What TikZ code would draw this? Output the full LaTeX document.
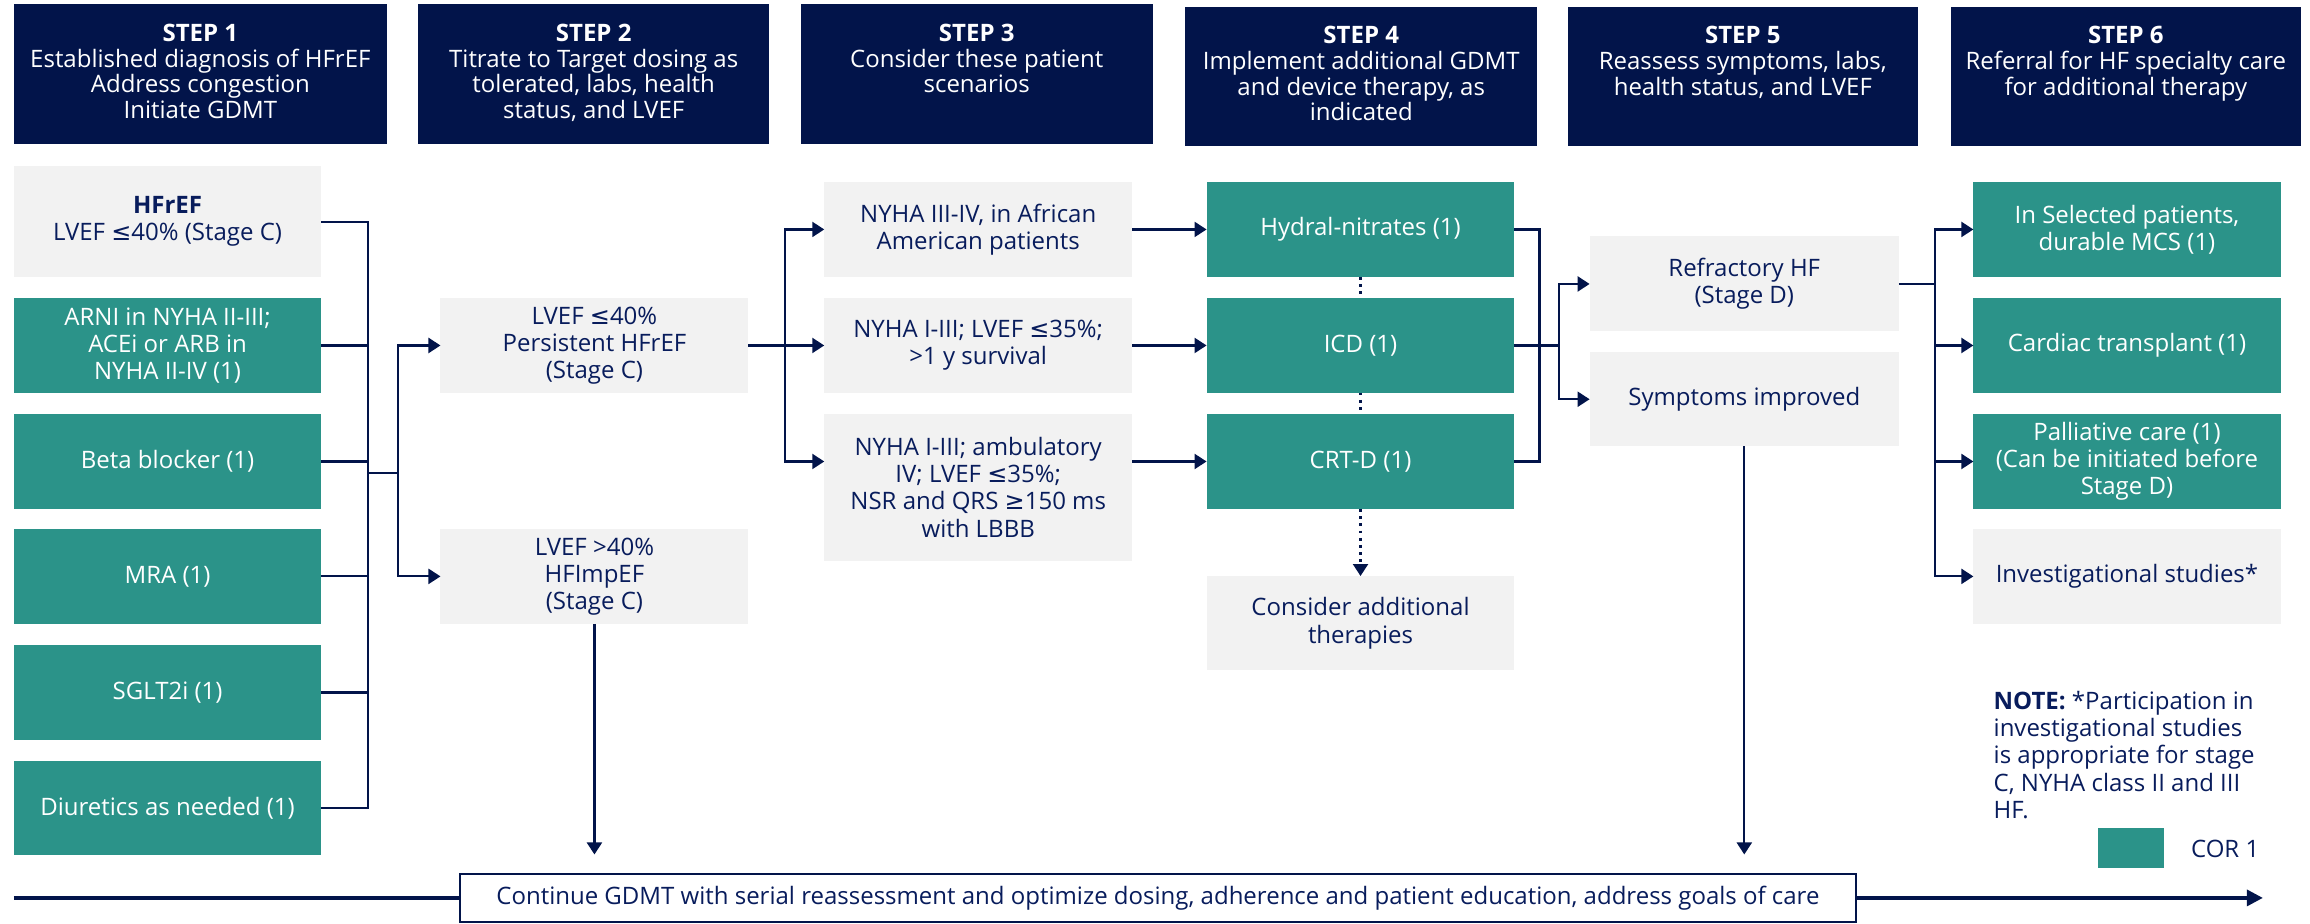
\documentclass[tikz,border=0pt]{standalone}
\usepackage{fontspec}
\setmainfont{Open Sans}
\newfontfamily\symf{DejaVu Sans}
\newcommand\myle{{\symf ≤}}
\newcommand\myge{{\symf ≥}}
\usetikzlibrary{arrows.meta}
\definecolor{navy}{RGB}{2,20,74}
\definecolor{cteal}{RGB}{43,147,137}
\definecolor{cgray}{RGB}{242,242,242}
\definecolor{ctext}{RGB}{8,28,92}
\newcommand\bx[7]{\node[#2, minimum width={(#5-#3)*0.7366pt}, minimum height={(#6-#4)*0.7366pt}] (#1) at ({(#3+#5)/2},{(#4+#6)/2}) {#7};}
\tikzset{
  base/.style={rectangle, inner sep=2pt, outer sep=0pt, align=center, font=\fontsize{12}{13.6}\selectfont},
  tealbox/.style={base, fill=cteal, text=white},
  graybox/.style={base, fill=cgray, text=ctext},
  headbox/.style={rectangle, fill=navy, outer sep=0pt, inner sep=0pt},
  headtext/.style={align=center, text=white, inner sep=0pt, anchor=north, font=\fontsize{12}{12.9}\selectfont},
  contbox/.style={base, draw=navy, line width=1pt, fill=white, text=ctext},
  conn/.style={draw=navy, line width=1.1pt},
  tip/.style={-{Triangle[length=6pt,width=7.5pt]}},
  arr/.style={conn, tip},
  dotconn/.style={draw=navy, line width=1.1pt, dash pattern=on 1.4pt off 2.2pt},
}
\begin{document}
\begin{tikzpicture}[x=0.7366pt, y=-0.7366pt]
\useasboundingbox (0,0) rectangle (1568,627);
% headers
\bx{h1}{headbox}{9.5}{3}{263}{97.5}{}
\bx{h2}{headbox}{284}{3}{522}{97.5}{}
\bx{h3}{headbox}{544}{3}{782.5}{97.5}{}
\bx{h4}{headbox}{804.5}{4.5}{1043}{99}{}
\bx{h5}{headbox}{1064}{4.5}{1302}{99}{}
\bx{h6}{headbox}{1324}{4.5}{1562}{99}{}
\node[headtext] (h1t) at (136,16) {\textbf{STEP 1}\\Established diagnosis of HFrEF\\Address congestion\\Initiate GDMT};
\node[headtext] (h2t) at (403,16) {\textbf{STEP 2}\\Titrate to Target dosing as\\tolerated, labs, health\\status, and LVEF};
\node[headtext] (h3t) at (663,16) {\textbf{STEP 3}\\Consider these patient\\scenarios};
\node[headtext] (h4t) at (924,17.5) {\textbf{STEP 4}\\Implement additional GDMT\\and device therapy, as\\indicated};
\node[headtext] (h5t) at (1183,17.5) {\textbf{STEP 5}\\Reassess symptoms, labs,\\health status, and LVEF};
\node[headtext] (h6t) at (1443,17.5) {\textbf{STEP 6}\\Referral for HF specialty care\\for additional therapy};
% column 1
\bx{c1}{graybox}{9.5}{113}{218}{188}{\textbf{HFrEF}\\LVEF \myle40\% (Stage C)}
\bx{c2}{tealbox}{9.5}{202.5}{218}{266.5}{ARNI in NYHA II-III;\\ACEi or ARB in\\NYHA II-IV (1)}
\bx{c3}{tealbox}{9.5}{281}{218}{345.5}{Beta blocker (1)}
\bx{c4}{tealbox}{9.5}{359}{218}{423.5}{MRA (1)}
\bx{c5}{tealbox}{9.5}{438}{218}{502}{SGLT2i (1)}
\bx{c6}{tealbox}{9.5}{516.5}{218}{580.5}{Diuretics as needed (1)}
% column 2
\bx{s2a}{graybox}{299}{202.5}{508}{266.5}{LVEF \myle40\%\\Persistent HFrEF\\(Stage C)}
\bx{s2b}{graybox}{299}{359}{508}{423.5}{LVEF >40\%\\HFImpEF\\(Stage C)}
% column 3
\bx{s3a}{graybox}{559.5}{123.5}{768.5}{188}{NYHA III-IV, in African\\American patients}
\bx{s3b}{graybox}{559.5}{202.5}{768.5}{266.5}{NYHA I-III; LVEF \myle35\%;\\>1 y survival}
\bx{s3c}{graybox}{559.5}{281}{768.5}{380.5}{NYHA I-III; ambulatory\\IV; LVEF \myle35\%;\\NSR and QRS \myge150 ms\\with LBBB}
% column 4
\bx{hyd}{tealbox}{819}{123.5}{1028}{188}{Hydral-nitrates (1)}
\bx{icd}{tealbox}{819}{202.5}{1028}{266.5}{ICD (1)}
\bx{crt}{tealbox}{819}{281}{1028}{345.5}{CRT-D (1)}
\bx{cons}{graybox}{819}{391}{1028}{455}{Consider additional\\therapies}
% column 5
\bx{ref}{graybox}{1079}{160.5}{1289}{225}{Refractory HF\\(Stage D)}
\bx{sym}{graybox}{1079}{239}{1289}{303}{Symptoms improved}
% column 6
\bx{mcs}{tealbox}{1339.5}{123.5}{1548}{188}{In Selected patients,\\durable MCS (1)}
\bx{ctx}{tealbox}{1339.5}{202.5}{1548}{266.5}{Cardiac transplant (1)}
\bx{pal}{tealbox}{1339.5}{281}{1548}{345.5}{Palliative care (1)\\(Can be initiated before\\Stage D)}
\bx{inv}{graybox}{1339.5}{359}{1548}{423.5}{Investigational studies*}
% note and legend
\node[anchor=north west, inner sep=0pt, align=left, text=ctext, font=\fontsize{12}{13.6}\selectfont] (note) at (1353,469) {\textbf{NOTE:} *Participation in\\investigational studies\\is appropriate for stage\\C, NYHA class II and III\\HF.};
\bx{cor}{tealbox}{1424}{562}{1469}{589.5}{}
\node[anchor=west, inner sep=0pt, text=ctext, font=\fontsize{12}{13.6}\selectfont] (cort) at (1487,576) {COR 1};
% bottom
\bx{cont}{contbox}{312}{593}{1260}{626}{Continue GDMT with serial reassessment and optimize dosing, adherence and patient education, address goals of care}
\coordinate (L0) at (9.5,609.5);
\coordinate (L1) at (1536,609.5);
\draw[conn, line width=1.7pt] (L0) -- (cont.west);
\draw[conn, line width=1.7pt, -{Triangle[length=8pt,width=8pt]}] (cont.east) -- (L1);
% connectors column 1 -> 2
\coordinate (b1) at (250,321);
\coordinate (b2) at (270,321);
\foreach \n in {c1,c2,c3,c4,c5,c6} {\draw[conn] (\n.east) -| (b1);}
\draw[conn] (b1) -- (b2);
\draw[arr] (b2) |- (s2a.west);
\draw[arr] (b2) |- (s2b.west);
% 2 -> 3
\coordinate (b3) at (533,234.5);
\draw[conn] (s2a.east) -- (b3);
\draw[arr] (b3) |- (s3a.west);
\draw[arr] (b3) -- (s3b.west);
\draw[arr] (b3) |- (s3c.west |- crt.center);
% 3 -> 4
\draw[arr] (s3a.east) -- (hyd.west);
\draw[arr] (s3b.east) -- (icd.west);
\draw[arr] (s3c.east |- crt.center) -- (crt.west);
% dotted
\draw[dotconn] (hyd.south) -- (icd.north);
\draw[dotconn] (icd.south) -- (crt.north);
\draw[dotconn, tip] (crt.south) -- (cons.north);
% 4 -> 5
\coordinate (b4) at (1045,234.5);
\coordinate (b5) at (1058,234.5);
\draw[conn] (hyd.east) -| (b4);
\draw[conn] (crt.east) -| (b4);
\draw[conn] (icd.east) -- (b5);
\draw[arr] (b5) |- (ref.west);
\draw[arr] (b5) |- (sym.west);
% 5 -> 6
\coordinate (b6) at (1313.5,192.75);
\draw[conn] (ref.east) -- (b6);
\draw[arr] (b6) |- (mcs.west);
\draw[arr] (b6) |- (ctx.west);
\draw[arr] (b6) |- (pal.west);
\draw[arr] (b6) |- (inv.west);
% down arrows
\coordinate (d1) at (403.5,580);
\coordinate (d2) at (1184,580);
\draw[arr] (s2b.south) -- (d1);
\draw[arr] (sym.south) -- (d2);
\end{tikzpicture}
\end{document}
